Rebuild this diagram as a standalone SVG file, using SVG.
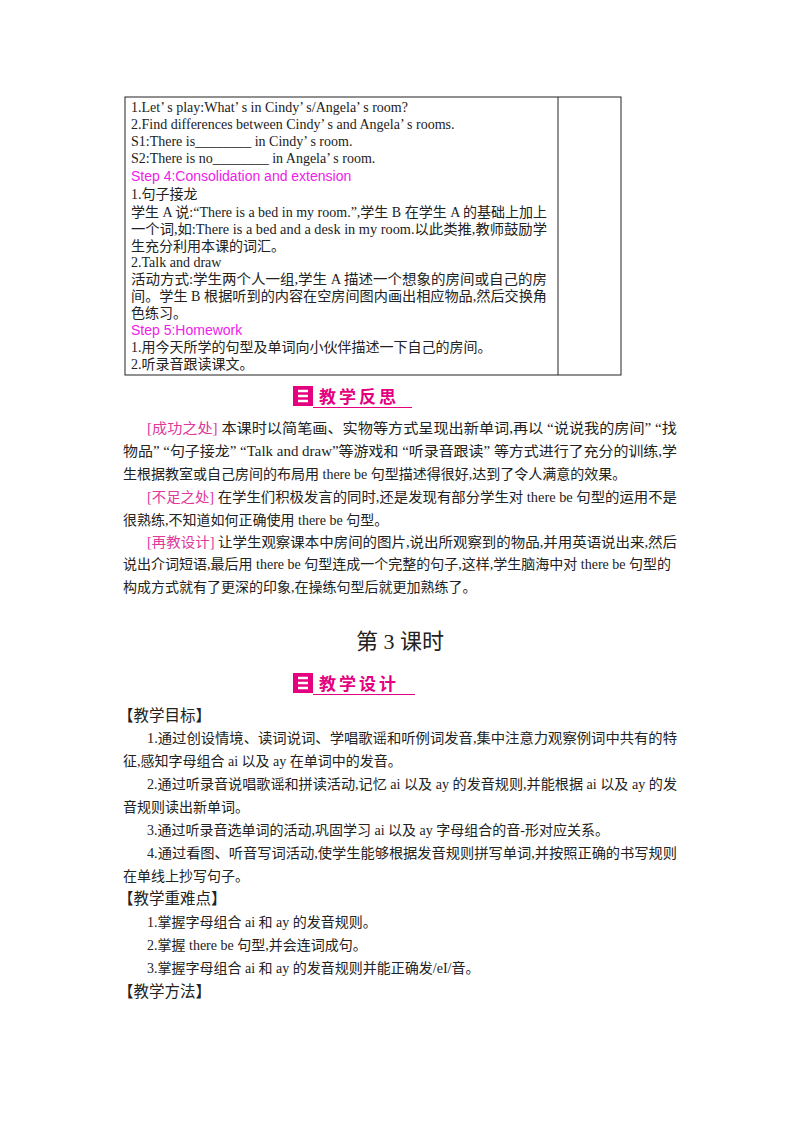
<svg xmlns="http://www.w3.org/2000/svg" width="800" height="1132" viewBox="0 0 800 1132">
<style>
text{font-family:"Liberation Serif","Noto Sans CJK SC",serif;fill:#222}
.t{font-size:14px}
.p{font-size:14px}
.m{fill:#f020e8}
.b{fill:#e0389c}
.h{font-family:"Noto Sans CJK SC",sans-serif;font-weight:bold;font-size:17px;fill:#e4007f;letter-spacing:3px}
.k{font-size:15.5px}
</style>
<rect width="800" height="1132" fill="#fff"/>
<g id="table" fill="none" stroke="#222" stroke-width="1">
<rect x="125" y="97" width="496" height="278"/>
<line x1="558" y1="97" x2="558" y2="375"/>
</g>
<g id="table-text" class="t">
<text x="131" y="112">1.Let’ s play:What’ s in Cindy’ s/Angela’ s room?</text>
<text x="131" y="129">2.Find differences between Cindy’ s and Angela’ s rooms.</text>
<text x="131" y="146">S1:There is________  in Cindy’ s room.</text>
<text x="131" y="163">S2:There is no________  in Angela’ s room.</text>
<text x="131" y="181" class="m" style="font-family:'Liberation Sans',sans-serif;font-size:14px">Step 4:Consolidation and extension</text>
<text x="131" y="199">1.句子接龙</text>
<text x="131" y="217" textLength="416" lengthAdjust="spacingAndGlyphs">学生 A 说:“There is a bed in my room.”,学生 B 在学生 A 的基础上加上</text>
<text x="131" y="234" textLength="416" lengthAdjust="spacingAndGlyphs">一个词,如:There is a bed and a desk in my room.以此类推,教师鼓励学</text>
<text x="131" y="251">生充分利用本课的词汇。</text>
<text x="131" y="267">2.Talk and draw</text>
<text x="131" y="284" textLength="416" lengthAdjust="spacingAndGlyphs">活动方式:学生两个人一组,学生 A 描述一个想象的房间或自己的房</text>
<text x="131" y="301" textLength="416" lengthAdjust="spacingAndGlyphs">间。学生 B 根据听到的内容在空房间图内画出相应物品,然后交换角</text>
<text x="131" y="318">色练习。</text>
<text x="131" y="335" class="m" style="font-family:'Liberation Sans',sans-serif;font-size:14px">Step 5:Homework</text>
<text x="131" y="352">1.用今天所学的句型及单词向小伙伴描述一下自己的房间。</text>
<text x="131" y="369">2.听录音跟读课文。</text>
</g>
<g id="header-reflect">
<rect x="293" y="386" width="20" height="20" fill="#e4007f"/>
<path d="M298 391 h10 M298 396 h10 M298 401 h10" stroke="#fff" stroke-width="2.5"/>
<text x="319" y="403" class="h">教学反思</text>
<line x1="313" y1="407.5" x2="412" y2="407.5" stroke="#e4007f" stroke-width="1.2"/>
</g>
<g id="reflect-text" class="p">
<text x="147" y="433" textLength="530" lengthAdjust="spacingAndGlyphs"><tspan class="b">[成功之处]</tspan>   本课时以简笔画、实物等方式呈现出新单词,再以 “说说我的房间” “找</text>
<text x="123" y="456" textLength="554" lengthAdjust="spacingAndGlyphs">物品” “句子接龙” “Talk and draw”等游戏和 “听录音跟读” 等方式进行了充分的训练,学</text>
<text x="123" y="479">生根据教室或自己房间的布局用 there be 句型描述得很好,达到了令人满意的效果。</text>
<text x="147" y="502" textLength="530" lengthAdjust="spacingAndGlyphs"><tspan class="b">[不足之处]</tspan>   在学生们积极发言的同时,还是发现有部分学生对 there be 句型的运用不是</text>
<text x="123" y="525">很熟练,不知道如何正确使用 there be 句型。</text>
<text x="147" y="547" textLength="530" lengthAdjust="spacingAndGlyphs"><tspan class="b">[再教设计]</tspan>   让学生观察课本中房间的图片,说出所观察到的物品,并用英语说出来,然后</text>
<text x="123" y="569" textLength="548" lengthAdjust="spacingAndGlyphs">说出介词短语,最后用 there be 句型连成一个完整的句子,这样,学生脑海中对 there be 句型的</text>
<text x="123" y="592">构成方式就有了更深的印象,在操练句型后就更加熟练了。</text>
</g>
<text x="400" y="649" text-anchor="middle" style="font-size:22px">第 3 课时</text>
<g id="header-design">
<rect x="293" y="673" width="20" height="20" fill="#e4007f"/>
<path d="M298 678 h10 M298 683 h10 M298 688 h10" stroke="#fff" stroke-width="2.5"/>
<text x="319" y="690" class="h">教学设计</text>
<line x1="313" y1="694.5" x2="415" y2="694.5" stroke="#e4007f" stroke-width="1.2"/>
</g>
<g id="design-text" class="p">
<text x="118" y="721" class="k">【教学目标】</text>
<text x="147" y="743" textLength="530" lengthAdjust="spacingAndGlyphs">1.通过创设情境、读词说词、学唱歌谣和听例词发音,集中注意力观察例词中共有的特</text>
<text x="123" y="766">征,感知字母组合 ai 以及 ay 在单词中的发音。</text>
<text x="147" y="789" textLength="530" lengthAdjust="spacingAndGlyphs">2.通过听录音说唱歌谣和拼读活动,记忆 ai 以及 ay 的发音规则,并能根据 ai 以及 ay 的发</text>
<text x="123" y="812">音规则读出新单词。</text>
<text x="147" y="835">3.通过听录音选单词的活动,巩固学习 ai 以及 ay 字母组合的音-形对应关系。</text>
<text x="147" y="858" textLength="530" lengthAdjust="spacingAndGlyphs">4.通过看图、听音写词活动,使学生能够根据发音规则拼写单词,并按照正确的书写规则</text>
<text x="123" y="881">在单线上抄写句子。</text>
<text x="118" y="904" class="k">【教学重难点】</text>
<text x="147" y="927">1.掌握字母组合 ai 和 ay 的发音规则。</text>
<text x="147" y="950">2.掌握 there be 句型,并会连词成句。</text>
<text x="147" y="973">3.掌握字母组合 ai 和 ay 的发音规则并能正确发/eI/音。</text>
<text x="118" y="997" class="k">【教学方法】</text>
</g>
</svg>
